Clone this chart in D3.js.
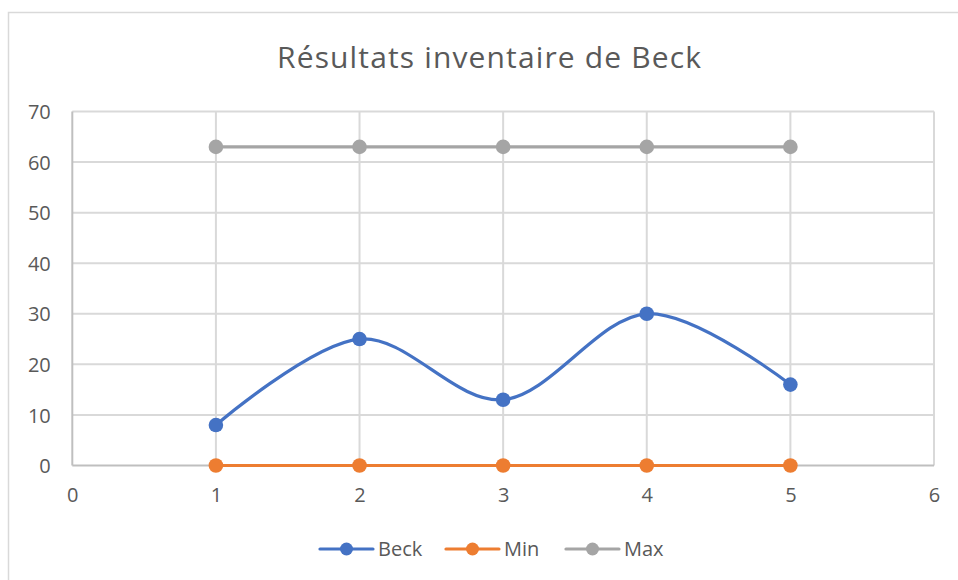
<!DOCTYPE html>
<html>
<head>
<meta charset="utf-8">
<script src="https://cdn.jsdelivr.net/npm/d3@7"></script>
<style>
  html, body { margin: 0; padding: 0; background: #fff; }
  svg { display: block; }
  text { font-family: "Open Sans", "Noto Sans", sans-serif; fill: #595959; }
</style>
</head>
<body>
<svg id="chart" width="958" height="580"></svg>
<script>
const title = "Résultats inventaire de Beck";
const xValues = [1, 2, 3, 4, 5];
const beckValues = [8, 25, 13, 30, 16];
const minValues = [0, 0, 0, 0, 0];
const maxValues = [63, 63, 63, 63, 63];
const seriesNames = ["Beck", "Min", "Max"];
const seriesColors = ["#4472C4", "#ED7D31", "#A5A5A5"];
const xTicks = [0, 1, 2, 3, 4, 5, 6];
const yTicks = [0, 10, 20, 30, 40, 50, 60, 70];

const series = [
  { name: seriesNames[0], color: seriesColors[0], values: beckValues, smooth: true },
  { name: seriesNames[1], color: seriesColors[1], values: minValues, smooth: false },
  { name: seriesNames[2], color: seriesColors[2], values: maxValues, smooth: false }
];

const svg = d3.select("#chart");

// chart border
svg.append("rect")
  .attr("x", 8.5).attr("y", 12.5)
  .attr("width", 1000).attr("height", 1000)
  .attr("fill", "none").attr("stroke", "#d9d9d9").attr("stroke-width", 1.5);

const x = d3.scaleLinear().domain([0, 6]).range([72.3, 934]);
const y = d3.scaleLinear().domain([0, 70]).range([465.5, 111.5]);

// title
svg.append("text")
  .attr("x", 489).attr("y", 68)
  .attr("text-anchor", "middle")
  .attr("textLength", 424)
  .attr("lengthAdjust", "spacing")
  .style("font-size", "30px")
  .style("font-weight", "400")
  .text(title);

// gridlines
const grid = svg.append("g");
grid.selectAll(".hg").data(yTicks.filter(d => d > 0)).enter().append("line")
  .attr("x1", x(0)).attr("x2", x(6))
  .attr("y1", d => y(d)).attr("y2", d => y(d))
  .attr("stroke", "#d9d9d9").attr("stroke-width", 2);
grid.selectAll(".vg").data(xTicks.filter(d => d > 0)).enter().append("line")
  .attr("y1", y(0)).attr("y2", y(70))
  .attr("x1", d => x(d)).attr("x2", d => x(d))
  .attr("stroke", "#d9d9d9").attr("stroke-width", 2);

// axes (lines)
svg.append("line").attr("x1", x(0)).attr("x2", x(6)).attr("y1", y(0)).attr("y2", y(0))
  .attr("stroke", "#bfbfbf").attr("stroke-width", 2);
svg.append("line").attr("x1", x(0)).attr("x2", x(0)).attr("y1", y(0)).attr("y2", y(70))
  .attr("stroke", "#bfbfbf").attr("stroke-width", 2);

// axis labels via d3 axes
const yAxis = d3.axisLeft(y).tickValues(yTicks).tickSize(0).tickPadding(0).tickFormat(d3.format("d"));
const yg = svg.append("g").attr("transform", `translate(${x(0) - 21.5},0)`).call(yAxis);
yg.select(".domain").remove();
yg.selectAll("text").style("font-size", "20px").attr("fill", "#595959").attr("dy", "0.36em");

const xAxis = d3.axisBottom(x).tickValues(xTicks).tickSize(0).tickPadding(0).tickFormat(d3.format("d"));
const xg = svg.append("g").attr("transform", `translate(0,${y(0) + 22})`).call(xAxis);
xg.select(".domain").remove();
xg.selectAll("text").style("font-size", "20px").attr("fill", "#595959");

// series
const plot = svg.append("g");
series.forEach(s => {
  const pts = xValues.map((xv, i) => [xv, s.values[i]]);
  const line = d3.line()
    .x(d => x(d[0])).y(d => y(d[1]))
    .curve(s.smooth ? d3.curveCardinal.tension(0) : d3.curveLinear);
  plot.append("path").datum(pts)
    .attr("d", line)
    .attr("fill", "none").attr("stroke", s.color).attr("stroke-width", 3.2)
    .attr("stroke-linecap", "round");
});
series.forEach(s => {
  const pts = xValues.map((xv, i) => [xv, s.values[i]]);
  plot.selectAll(null).data(pts).enter().append("circle")
    .attr("cx", d => x(d[0])).attr("cy", d => y(d[1]))
    .attr("r", 7.3).attr("fill", s.color);
});

// legend
const legendX = [320, 446, 566];
const legend = svg.append("g");
series.forEach((s, i) => {
  const g = legend.append("g").attr("transform", `translate(${legendX[i]},549)`);
  g.append("line").attr("x1", 0).attr("x2", 53).attr("y1", 0).attr("y2", 0)
    .attr("stroke", s.color).attr("stroke-width", 3.2).attr("stroke-linecap", "round");
  g.append("circle").attr("cx", 26.5).attr("cy", 0).attr("r", 6.5).attr("fill", s.color);
  g.append("text").attr("x", 58).attr("y", 0).attr("dy", "0.35em")
    .style("font-size", "20px").text(s.name);
});
</script>
</body>
</html>
